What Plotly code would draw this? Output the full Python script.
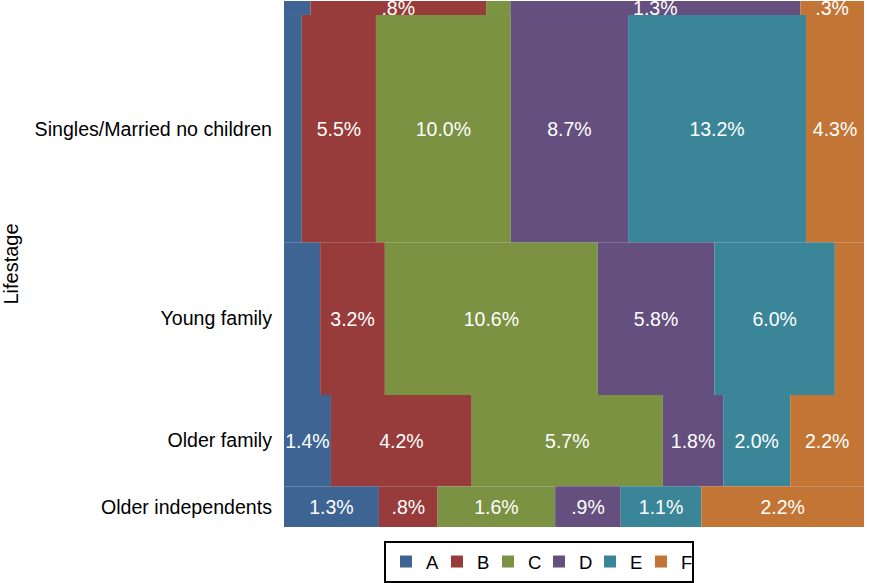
import plotly.graph_objects as go

# Data (percent of total), rows top to bottom
lifestages = ["Independents", "Singles/Married no children", "Young family",
              "Older family", "Older independents"]
categories = ["A", "B", "C", "D", "E", "F"]
values = {
    "A": [0.12, 1.32, 1.80, 1.40, 1.26],
    "B": [0.80, 5.50, 3.22, 4.20, 0.78],
    "C": [0.11, 10.00, 10.60, 5.70, 1.56],
    "D": [1.32, 8.70, 5.80, 1.80, 0.87],
    "E": [0.00, 13.20, 6.00, 2.00, 1.07],
    "F": [0.29, 4.30, 1.45, 2.20, 2.16],
}
colors = {
    "A": "#3E6494",
    "B": "#983B3B",
    "C": "#7A9242",
    "D": "#644F7E",
    "E": "#3A8698",
    "F": "#C37536",
}

FONT = "Liberation Sans, Arial, sans-serif"

# Row totals & positions
row_totals = [sum(values[c][i] for c in categories) for i in range(len(lifestages))]
centers = []
acc = 0.0
for t in row_totals:
    centers.append(acc + t / 2)
    acc += t
grand_total = acc


def fmt(v, share):
    # labels that would not fit in their segment are hidden
    if share < 7:
        return ""
    s = f"{v:.1f}"
    if s.startswith("0"):
        s = s[1:]
    return s + "%"


fig = go.Figure()
cum = [0.0] * len(lifestages)
for k, c in enumerate(categories):
    if k == len(categories) - 1:
        # last segment fills the row exactly (avoids float overshoot past 100)
        share = [100.0 - cum[i] for i in range(len(lifestages))]
    else:
        share = [values[c][i] / row_totals[i] * 100 for i in range(len(lifestages))]
    fig.add_trace(go.Bar(
        name=c,
        orientation="h",
        y=centers,
        x=share,
        base=list(cum),
        width=row_totals,
        marker=dict(color=colors[c], line=dict(width=0)),
        text=[fmt(v, s) for v, s in zip(values[c], share)],
        textposition="inside",
        insidetextanchor="middle",
        textangle=0,
        constraintext="none",
        insidetextfont=dict(color="white", size=19.5, family=FONT),
        cliponaxis=False,
        hoverinfo="skip",
    ))
    cum = [cum[i] + share[i] for i in range(len(lifestages))]

fig.update_layout(
    width=871,
    height=583,
    margin=dict(l=284, r=7, t=1, b=56, autoexpand=False),
    paper_bgcolor="white",
    plot_bgcolor="white",
    barmode="overlay",
    font=dict(family=FONT, color="black", size=19.6),
    showlegend=True,
    legend=dict(
        orientation="h",
        xref="container", x=539 / 871, xanchor="center",
        yref="container", y=1 - 562 / 583, yanchor="middle",
        bordercolor="black", borderwidth=2,
        font=dict(size=18.5, family=FONT),
        itemwidth=30,
        entrywidth=6,
        traceorder="normal",
    ),
    xaxis=dict(visible=False, range=[0, 100.0001], fixedrange=True),
    yaxis=dict(
        range=[grand_total, 0],
        tickvals=centers,
        ticktext=lifestages,
        showgrid=False, zeroline=False, showline=False,
        ticks="",
        automargin=False,
        fixedrange=True,
        ticklabelstandoff=11,
        tickfont=dict(size=19.6, family=FONT),
        title=dict(text="Lifestage", font=dict(size=20, family=FONT), standoff=10),
    ),
)

fig.write_html(
    "out.html",
    config={"displayModeBar": False, "staticPlot": True},
    post_script="document.body.style.margin='0px';document.body.style.overflow='hidden';",
)
